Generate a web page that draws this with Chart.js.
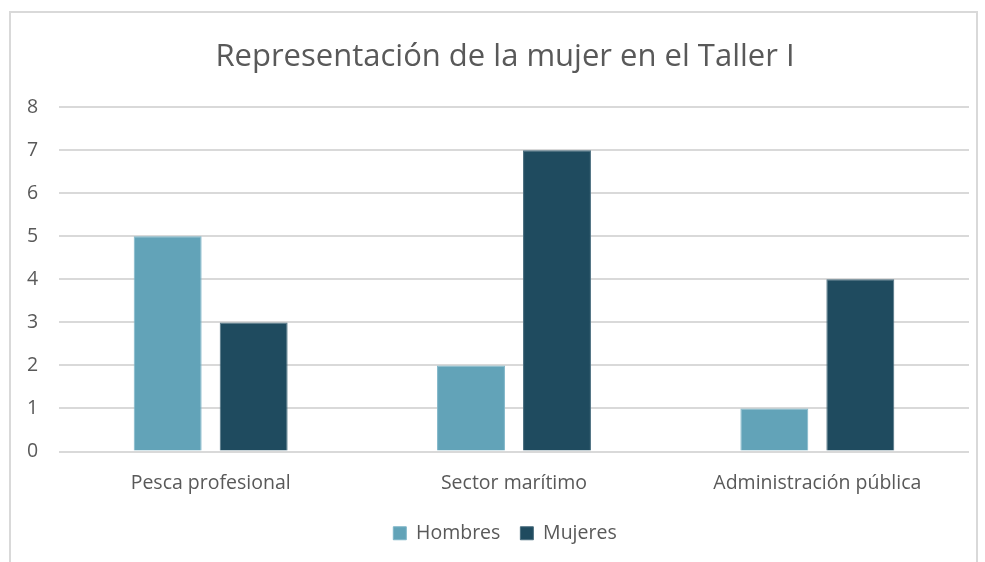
<!DOCTYPE html>
<html>
<head>
<meta charset="utf-8">
<script src="https://cdn.jsdelivr.net/npm/chart.js@4"></script>
<style>
  html, body { margin: 0; padding: 0; background: #fff; }
  #frame {
    position: absolute; left: 9px; top: 11px; width: 969px; height: 560px;
    border: 2px solid #d9d9d9; border-bottom: none; box-sizing: border-box;
  }
  #wrap { position: absolute; left: 0; top: 0; width: 985px; height: 562px; }
</style>
</head>
<body>
<div id="frame"></div>
<div id="wrap"><canvas id="chart"></canvas></div>
<script>
var categories = ['Pesca profesional', 'Sector marítimo', 'Administración pública'];
var hombres = [5, 2, 1];
var mujeres = [3, 7, 4];
var titleText = 'Representación de la mujer en el Taller I';

var gray = '#595959';
var fontFamily = "'Open Sans', 'Noto Sans', sans-serif";

new Chart(document.getElementById('chart'), {
    type: 'bar',
    data: {
        labels: categories,
        datasets: [
            {
                label: 'Hombres',
                data: hombres,
                backgroundColor: '#62a3b8',
                borderColor: '#7fb6c8',
                borderWidth: 1,
                categoryPercentage: 0.567,
                barPercentage: 0.79,
            },
            {
                label: 'Mujeres',
                data: mujeres,
                backgroundColor: '#1f4b5f',
                borderColor: '#4a6d7e',
                borderWidth: 1,
                categoryPercentage: 0.567,
                barPercentage: 0.79,
            },
        ],
    },
    options: {
        responsive: true,
        maintainAspectRatio: false,
        animation: false,
        layout: {
            padding: { left: 41, right: 16, top: 39, bottom: 9 },
        },
        scales: {
            x: {
                grid: { display: false, drawTicks: false },
                border: { display: false },
                ticks: {
                    color: gray,
                    font: { family: fontFamily, size: 19.5 },
                    padding: 20,
                },
                // fixed height so the legend can keep a wide item gap
                afterFit: function (scale) {
                    scale.height = 52;
                },
            },
            y: {
                min: 0,
                max: 8,
                ticks: {
                    stepSize: 1,
                    color: gray,
                    font: { family: fontFamily, size: 19.5 },
                    // mirrored labels are not clipped, pulled back left of the plot
                    mirror: true,
                    padding: -32,
                },
                grid: { color: '#d9d9d9', lineWidth: 2, drawTicks: false },
                border: { display: false },
                // narrow axis box so the title and legend centre like the original
                afterFit: function (scale) {
                    scale.width = 18;
                },
            },
        },
        plugins: {
            title: {
                display: true,
                text: titleText,
                color: gray,
                font: { family: fontFamily, size: 31, weight: 'normal' },
                padding: { top: 0, bottom: 31 },
            },
            legend: {
                position: 'bottom',
                labels: {
                    color: gray,
                    font: { family: fontFamily, size: 19.5 },
                    boxWidth: 13,
                    boxHeight: 13,
                    padding: 20,
                },
            },
            tooltip: { enabled: false },
        },
    },
});
</script>
</body>
</html>
